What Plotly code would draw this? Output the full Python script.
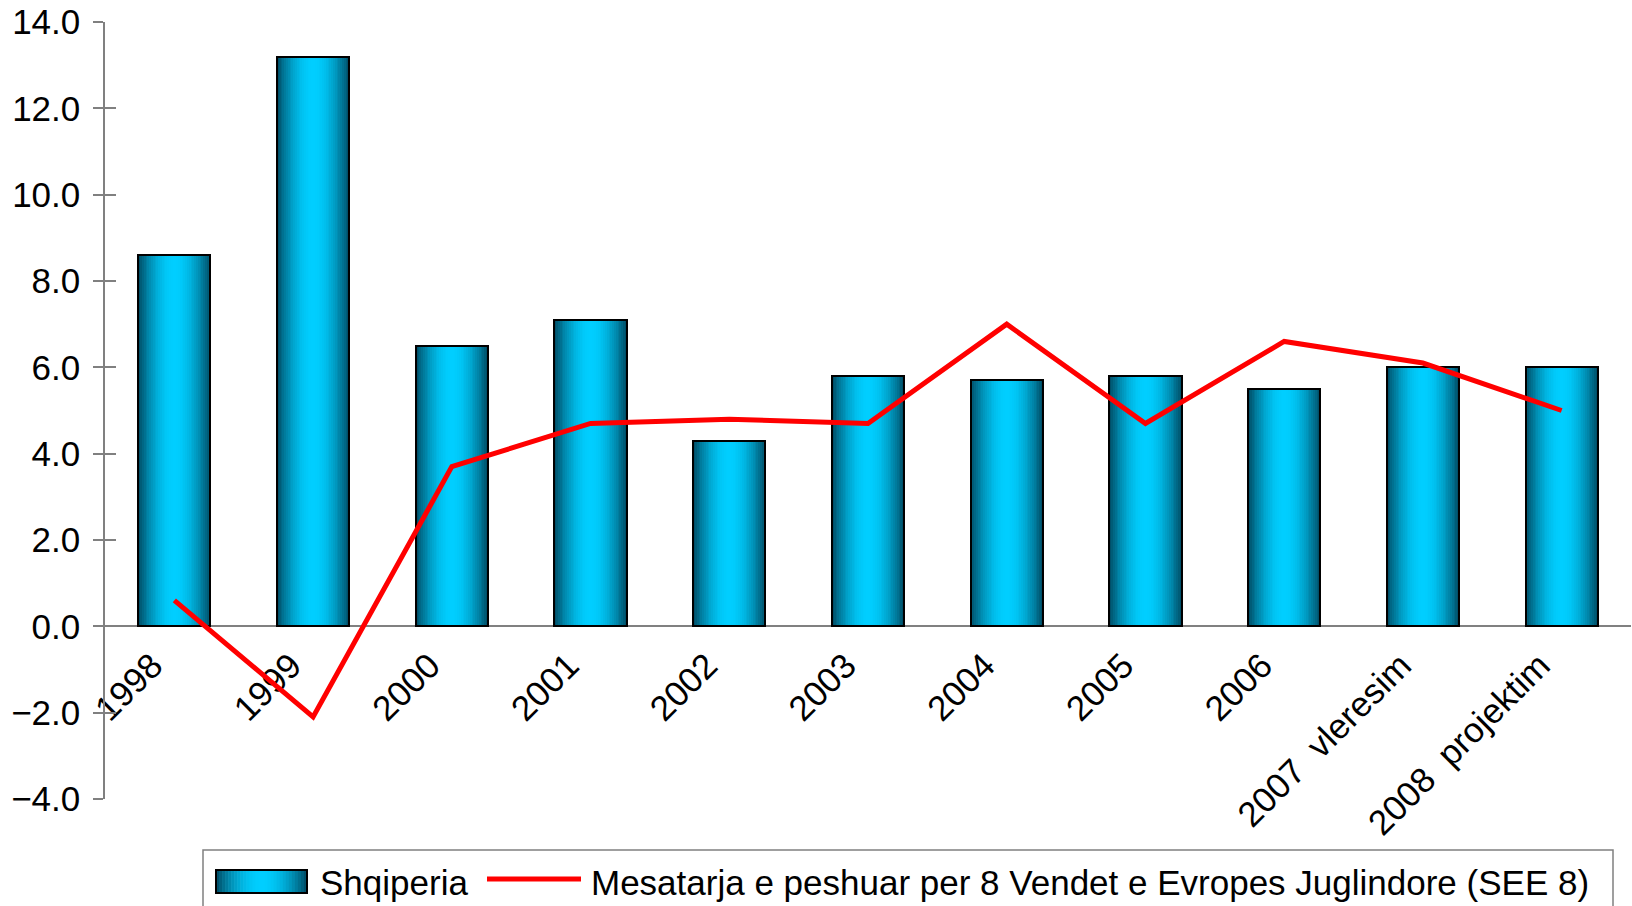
import math
import plotly.graph_objects as go

# ---------------- data ----------------
categories = ["1998", "1999", "2000", "2001", "2002", "2003", "2004", "2005", "2006",
              "2007\u00a0\u00a0vleresim", "2008\u00a0\u00a0projektim"]
shqiperia = [8.6, 13.2, 6.5, 7.1, 4.3, 5.8, 5.7, 5.8, 5.5, 6.0, 6.0]
see8 = [0.6, -2.1, 3.7, 4.7, 4.8, 4.7, 7.0, 4.7, 6.6, 6.1, 5.0]
y_ticks = [-4, -2, 0, 2, 4, 6, 8, 10, 12, 14]
series_names = ["Shqiperia",
                "Mesatarja e peshuar per 8 Vendet e Evropes Juglindore (SEE 8)"]

# ---------------- style ----------------
W, H = 1632, 906
L, R, T, B = 105, 1, 22, 107
PW, PH = W - L - R, H - T - B
FONT = "Liberation Sans Narrow, Arial Narrow, Liberation Sans, Arial, sans-serif"
TICK_SIZE = 35
LEG_SIZE = 35
BAR_W = 0.52
N_LAYERS = 20
DARK = (0, 72, 96)
BRIGHT = (0, 206, 255)
GRAY = "#808080"


def mix(t):
    return "rgb(%d,%d,%d)" % tuple(round(a + (b - a) * t) for a, b in zip(DARK, BRIGHT))


def grad(p):
    return math.sin(min(p, 1.0) * math.pi / 2) ** 0.9


def px(x):
    return (x - L) / PW


def py(y):
    return (T + PH - y) / PH


fig = go.Figure()

# gradient (cylinder-like) bars built from overlaid layers
for i in range(N_LAYERS):
    p = i / N_LAYERS
    fig.add_trace(go.Bar(
        x=categories, y=shqiperia, width=BAR_W * (1 - p),
        marker=dict(color=mix(grad(p + 0.5 / N_LAYERS)), line=dict(width=0)),
        showlegend=False, hoverinfo="skip"))

# outline
fig.add_trace(go.Bar(
    x=categories, y=shqiperia, width=BAR_W, name=series_names[0],
    marker=dict(color="rgba(0,0,0,0)", line=dict(color="black", width=2)),
    showlegend=False))

fig.add_trace(go.Scatter(
    x=categories, y=see8, mode="lines", name=series_names[1],
    line=dict(color="#ff0000", width=5), showlegend=False))

# ---------------- custom legend ----------------
shapes = []
shapes.append(dict(type="rect", xref="paper", yref="paper",
                   x0=px(203), x1=px(1613), y0=py(850), y1=py(930),
                   line=dict(color=GRAY, width=1.5), fillcolor="white", layer="below"))
sx0, sx1, sy0, sy1 = 216, 307, 870, 893
NS = 30
for j in range(NS):
    a = sx0 + (sx1 - sx0) * j / NS
    b = sx0 + (sx1 - sx0) * (j + 1) / NS
    c = ((j + 0.5) / NS)
    p = 1 - abs(c - 0.5) * 2
    shapes.append(dict(type="rect", xref="paper", yref="paper",
                       x0=px(a), x1=px(b) + 0.0004, y0=py(sy0), y1=py(sy1),
                       line=dict(width=0), fillcolor=mix(grad(p))))
shapes.append(dict(type="rect", xref="paper", yref="paper",
                   x0=px(sx0), x1=px(sx1), y0=py(sy0), y1=py(sy1),
                   line=dict(color="black", width=2)))
shapes.append(dict(type="line", xref="paper", yref="paper",
                   x0=px(487), x1=px(581), y0=py(879), y1=py(879),
                   line=dict(color="#ff0000", width=5)))

annotations = [
    dict(text=series_names[0], xref="paper", yref="paper", x=px(318), y=py(882),
         xanchor="left", yanchor="middle", showarrow=False,
         font=dict(family=FONT, size=LEG_SIZE, color="black")),
    dict(text=series_names[1], xref="paper", yref="paper", x=px(589), y=py(882),
         xanchor="left", yanchor="middle", showarrow=False,
         font=dict(family=FONT, size=LEG_SIZE, color="black")),
]

fig.update_layout(
    width=W, height=H, autosize=False,
    margin=dict(l=L, r=R, t=T, b=B, autoexpand=False, pad=0),
    paper_bgcolor="white", plot_bgcolor="white",
    barmode="overlay", bargap=0,
    font=dict(family=FONT, size=TICK_SIZE, color="black"),
    shapes=shapes, annotations=annotations,
    xaxis=dict(
        type="category", anchor="free", position=4 / 18, domain=[0, 1],
        showline=True, linecolor=GRAY, linewidth=1.5, layer="below traces",
        ticks="", showgrid=False, zeroline=False, tickangle=-45,
        ticklabelstandoff=4, ticklabelshift=-22,
        tickfont=dict(family=FONT, size=TICK_SIZE, color="black"),
        range=[-0.5, len(categories) - 0.5], fixedrange=True),
    yaxis=dict(
        range=[-4, 14], tickvals=y_ticks, tickformat=".1f",
        showline=True, linecolor=GRAY, linewidth=1.5,
        ticks="outside", ticklen=10, tickcolor=GRAY, tickwidth=1.5,
        ticklabelstandoff=6,
        showgrid=False, zeroline=False,
        tickfont=dict(family=FONT, size=TICK_SIZE, color="black"), fixedrange=True),
    yaxis2=dict(
        range=[-4, 14], tickvals=y_ticks, overlaying="y", side="left", anchor="x",
        showline=False, ticks="inside", ticklen=11, tickcolor=GRAY, tickwidth=1.5,
        showticklabels=False, showgrid=False, zeroline=False, fixedrange=True),
)
# empty helper trace so the inside tick marks (yaxis2) are drawn
fig.add_trace(go.Scatter(x=[categories[0]], y=[None], yaxis="y2", showlegend=False,
                         hoverinfo="skip", mode="lines"))

fig.write_html("out.html", config={"displayModeBar": False},
               post_script="document.body.style.margin='0';")
